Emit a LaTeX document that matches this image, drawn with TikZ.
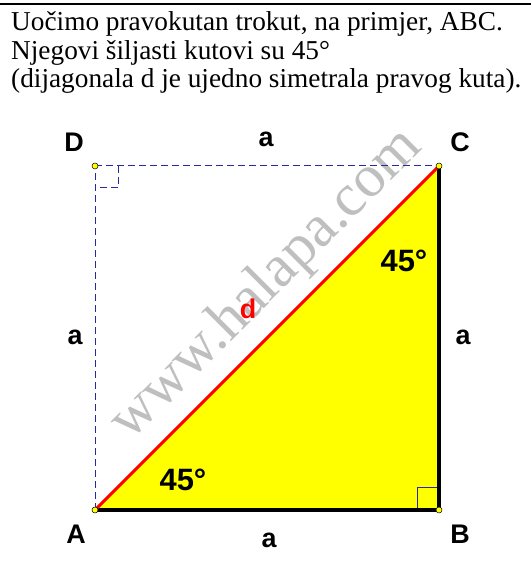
\documentclass[tikz,border=0pt]{standalone}
\usepackage{fontspec}
\setmainfont{Liberation Serif}
\newfontfamily\lblfont{Liberation Sans}
\usetikzlibrary{positioning, calc}
\definecolor{kvblue}{RGB}{40,40,160}
\definecolor{kvyellow}{RGB}{255,255,0}

\begin{document}
\begin{tikzpicture}[x=1bp,y=1bp,font=\fontsize{27.4}{28}\selectfont,
  lbl/.style={font=\lblfont\bfseries\fontsize{27}{27}\selectfont,inner sep=0pt},
  kut/.style={font=\lblfont\bfseries\fontsize{31}{31}\selectfont,inner sep=0pt},
  tocka/.style={circle,draw=black,fill=kvyellow,inner sep=0pt,minimum size=6bp,line width=0.5bp},
  crtkano/.style={kvblue,dashed,dash pattern=on 7bp off 4bp,line width=1bp},
  stranica/.style={line width=3.5bp}]

\useasboundingbox (0,0) rectangle (531,567);

% --- Gornja crta i tekst
\draw[line width=1.8bp] (0,563) -- (531,563);
\node[anchor=base west,inner sep=0pt] (t1) at (11,536) {Uočimo pravokutan trokut, na primjer, ABC.};
\node[anchor=base west,inner sep=0pt] (t2) at (11,507) {Njegovi šiljasti kutovi su 45°};
\node[anchor=base west,inner sep=0pt] (t3) at (11,479) {(dijagonala d je ujedno simetrala pravog kuta).};

% --- Vrhovi kvadrata
\coordinate (A) at (95,57);
\coordinate (B) at (439,57);
\coordinate (C) at (439,401);
\coordinate (D) at (95,401);

% --- Trokut ABC
\fill[kvyellow] (A) -- (B) -- (C) -- cycle;

% --- Vodeni znak
\node[gray!50,rotate=45,font=\fontsize{60}{60}\selectfont] (wm) at (267,282) {www.halapa.com};

% --- Isprekidane stranice
\draw[crtkano] (A) -- (D);
\draw[crtkano] (D) -- (C);
\draw[crtkano] ($(D)+(23,0)$) -- ($(D)+(23,-22)$) -- ($(D)+(0,-22)$);

% --- Pravi kut kod B
\draw[kvblue,line width=1bp] ($(B)+(-22,0)$) -- ($(B)+(-22,22)$) -- ($(B)+(0,22)$);

% --- Stranice i dijagonala
\draw[stranica] (A) -- (B);
\draw[stranica] (B) -- (C);
\draw[stranica,red,line width=3bp] (A) -- (C);

% --- Tocke
\foreach \v in {A,B,C,D}{
  \node[tocka] at (\v) {};
}

% --- Oznake
\node[lbl] (lD) at (74,425) {D};
\node[lbl] (lC) at (460,425) {C};
\node[lbl] (lA) at (76,33) {A};
\node[lbl] (lB) at (460,33) {B};
\node[lbl] (aT) at (266,428) {a};
\node[lbl] (aL) at (75,230) {a};
\node[lbl] (aR) at (463,230) {a};
\node[lbl] (aB) at (269,27) {a};
\node[kut] (kC) at (404,306) {45°};
\node[kut] (kA) at (183,87) {45°};
\node[lbl,red] (d) at (248,258) {d};

\end{tikzpicture}
\end{document}
